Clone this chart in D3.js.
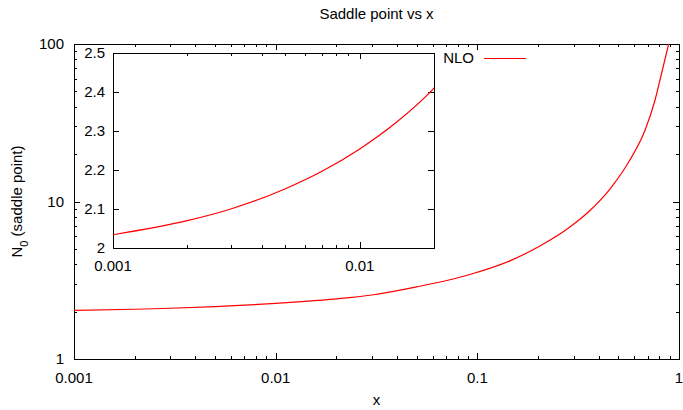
<!DOCTYPE html>
<html lang="en">
	<head>
		<meta charset="utf-8">
		<title>Saddle point vs x</title>
		<script src="https://cdn.jsdelivr.net/npm/d3@7"></script>
		<style>
			body { margin: 0; background: #fff; }
			text { font-family: "Liberation Sans", Arial, sans-serif; font-size: 15px; fill: #000; }
			.axis path.domain { display: none; }
			.axis line { stroke: #000; stroke-width: 1px; shape-rendering: crispEdges; }
			.frame { fill: none; stroke: #000; stroke-width: 1px; shape-rendering: crispEdges; }
		</style>
	</head>
	<body>
		<script>
			var w = 683;
			var h = 410;

			// series
			var xVals = [0.001, 0.002, 0.003, 0.005, 0.007, 0.01, 0.014, 0.02,
				0.03, 0.05, 0.0919, 0.1451, 0.2043, 0.2878, 0.3617, 0.4544, 0.5708, 0.6776, 0.7596, 0.8227, 0.8911];
			var n0Vals = [2.034, 2.07, 2.10, 2.152, 2.196, 2.254, 2.321, 2.41,
				2.55, 2.87, 3.44, 4.2, 5.219, 6.889, 8.767, 12.0, 18.34, 28.23, 43.78, 66.41, 101.5];

			var mainXTicks = [0.001, 0.01, 0.1, 1];
			var mainXLabels = ["0.001", "0.01", "0.1", "1"];
			var mainYTicks = [1, 10, 100];
			var mainYLabels = ["1", "10", "100"];
			var insetXTicks = [0.001, 0.01];
			var insetXLabels = ["0.001", "0.01"];
			var insetYTicks = [2, 2.1, 2.2, 2.3, 2.4, 2.5];
			var insetYLabels = ["2", "2.1", "2.2", "2.3", "2.4", "2.5"];

			var data = xVals.map(function(d, i) { return {x: d, y: n0Vals[i]}; });

			var svg = d3.select("body").append("svg")
				.attr("width", w)
				.attr("height", h);

			svg.append("rect").attr("width", w).attr("height", h).attr("fill", "#fff");

			// main plot area
			var pL = 74, pR = 679, pT = 44, pB = 359;

			var xScale = d3.scaleLog().domain([0.001, 1]).range([pL, pR]);
			var yScale = d3.scaleLog().domain([1, 100]).range([pB, pT]);

			var defs = svg.append("defs");
			defs.append("clipPath").attr("id", "clipMain")
				.append("rect").attr("x", pL).attr("y", pT).attr("width", pR - pL).attr("height", pB - pT);

			function isMajor(v) {
				var l = Math.log10(v);
				return Math.abs(l - Math.round(l)) < 1e-9;
			}

			// ticks point inward, mirrored on all four sides
			function drawAxes(g, xs, ys, l, r, t, b, xMajor, xMinor, yMajor, yMinor) {
				var major = 6, minor = 3;
				g.append("g").attr("class", "axis").attr("transform", "translate(0," + b + ")")
					.call(d3.axisBottom(xs).tickValues(xMajor).tickSize(-major).tickFormat(""));
				g.append("g").attr("class", "axis").attr("transform", "translate(0," + b + ")")
					.call(d3.axisBottom(xs).tickValues(xMinor).tickSize(-minor).tickFormat(""));
				g.append("g").attr("class", "axis").attr("transform", "translate(0," + t + ")")
					.call(d3.axisTop(xs).tickValues(xMajor).tickSize(-major).tickFormat(""));
				g.append("g").attr("class", "axis").attr("transform", "translate(0," + t + ")")
					.call(d3.axisTop(xs).tickValues(xMinor).tickSize(-minor).tickFormat(""));
				g.append("g").attr("class", "axis").attr("transform", "translate(" + l + ",0)")
					.call(d3.axisLeft(ys).tickValues(yMajor).tickSize(-major).tickFormat(""));
				g.append("g").attr("class", "axis").attr("transform", "translate(" + r + ",0)")
					.call(d3.axisRight(ys).tickValues(yMajor).tickSize(-major).tickFormat(""));
				if (yMinor.length) {
					g.append("g").attr("class", "axis").attr("transform", "translate(" + l + ",0)")
						.call(d3.axisLeft(ys).tickValues(yMinor).tickSize(-minor).tickFormat(""));
					g.append("g").attr("class", "axis").attr("transform", "translate(" + r + ",0)")
						.call(d3.axisRight(ys).tickValues(yMinor).tickSize(-minor).tickFormat(""));
				}
			}

			var main = svg.append("g");

			var mainXMinor = xScale.ticks().filter(function(d) { return !isMajor(d); });
			var mainYMinor = yScale.ticks().filter(function(d) { return !isMajor(d); });
			drawAxes(main, xScale, yScale, pL, pR, pT, pB, mainXTicks, mainXMinor, mainYTicks, mainYMinor);

			main.append("rect").attr("class", "frame")
				.attr("x", pL).attr("y", pT).attr("width", pR - pL).attr("height", pB - pT);

			// tick labels
			main.selectAll("text.xl").data(mainXTicks).enter().append("text")
				.attr("class", "xl")
				.attr("x", function(d) { return xScale(d); })
				.attr("y", pB + 24)
				.attr("text-anchor", "middle")
				.text(function(d, i) { return mainXLabels[i]; });

			main.selectAll("text.yl").data(mainYTicks).enter().append("text")
				.attr("class", "yl")
				.attr("x", pL - 10)
				.attr("y", function(d) { return yScale(d) + 5; })
				.attr("text-anchor", "end")
				.text(function(d, i) { return mainYLabels[i]; });

			var mainLine = d3.line()
				.curve(d3.curveMonotoneX)
				.x(function(d) { return xScale(d.x); })
				.y(function(d) { return yScale(d.y); });

			main.append("path")
				.datum(data)
				.attr("clip-path", "url(#clipMain)")
				.attr("fill", "none")
				.attr("stroke", "#ff0000")
				.attr("stroke-width", 1.2)
				.attr("d", mainLine);

			// titles
			svg.append("text")
				.attr("x", (pL + pR) / 2)
				.attr("y", 19)
				.attr("text-anchor", "middle")
				.text("Saddle point vs x");

			svg.append("text")
				.attr("x", (pL + pR) / 2)
				.attr("y", 405)
				.attr("text-anchor", "middle")
				.text("x");

			var yTitle = svg.append("text")
				.attr("transform", "translate(22," + ((pT + pB) / 2) + ") rotate(-90)")
				.attr("text-anchor", "middle");
			yTitle.append("tspan").text("N");
			yTitle.append("tspan").attr("baseline-shift", "sub").style("font-size", "11px").text("0");
			yTitle.append("tspan").text(" (saddle point)");

			// legend
			svg.append("text")
				.attr("x", 474)
				.attr("y", 63)
				.attr("text-anchor", "end")
				.text("NLO");
			svg.append("line")
				.attr("x1", 484).attr("x2", 526)
				.attr("y1", 58.5).attr("y2", 58.5)
				.attr("stroke", "#ff0000")
				.attr("stroke-width", 1.2);

			// inset
			var il = 113, ir = 434, it = 53, ib = 248;
			var ixScale = d3.scaleLog().domain([0.001, 0.02]).range([il, ir]);
			var iyScale = d3.scaleLinear().domain([2, 2.5]).range([ib, it]);

			defs.append("clipPath").attr("id", "clipInset")
				.append("rect").attr("x", il).attr("y", it).attr("width", ir - il).attr("height", ib - it);

			var inset = svg.append("g");
			inset.append("rect").attr("x", il).attr("y", it).attr("width", ir - il).attr("height", ib - it).attr("fill", "#fff");

			var insetXMinor = ixScale.ticks().filter(function(d) { return !isMajor(d); });
			drawAxes(inset, ixScale, iyScale, il, ir, it, ib, insetXTicks, insetXMinor, insetYTicks, []);

			inset.append("rect").attr("class", "frame")
				.attr("x", il).attr("y", it).attr("width", ir - il).attr("height", ib - it);

			inset.selectAll("text.xl").data(insetXTicks).enter().append("text")
				.attr("class", "xl")
				.attr("x", function(d) { return ixScale(d); })
				.attr("y", ib + 23)
				.attr("text-anchor", "middle")
				.text(function(d, i) { return insetXLabels[i]; });

			inset.selectAll("text.yl").data(insetYTicks).enter().append("text")
				.attr("class", "yl")
				.attr("x", il - 8)
				.attr("y", function(d) { return iyScale(d) + 5; })
				.attr("text-anchor", "end")
				.text(function(d, i) { return insetYLabels[i]; });

			var insetLine = d3.line()
				.curve(d3.curveMonotoneX)
				.x(function(d) { return ixScale(d.x); })
				.y(function(d) { return iyScale(d.y); });

			inset.append("path")
				.datum(data.filter(function(d) { return d.x <= 0.03; }))
				.attr("clip-path", "url(#clipInset)")
				.attr("fill", "none")
				.attr("stroke", "#ff0000")
				.attr("stroke-width", 1.2)
				.attr("d", insetLine);
		</script>
	</body>
</html>
